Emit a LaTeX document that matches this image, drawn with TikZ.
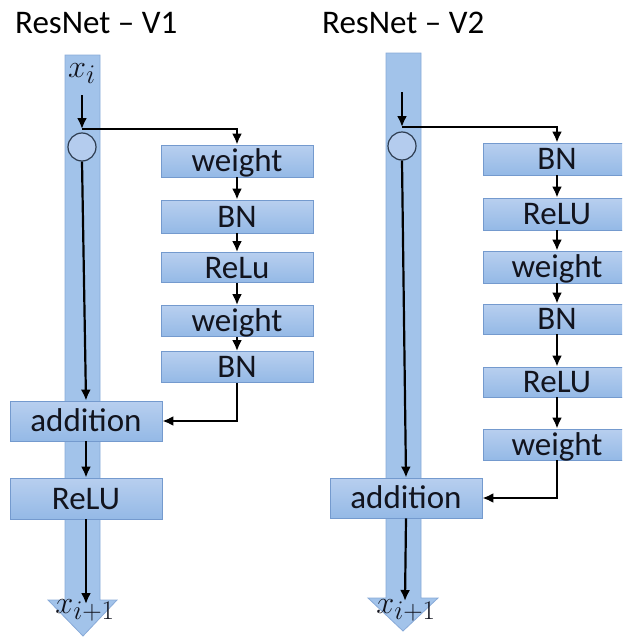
\RequirePackage{fix-cm}
\documentclass[tikz,border=0pt]{standalone}
\usepackage[no-math]{fontspec}
\setmainfont{Carlito}
\usetikzlibrary{arrows.meta}

\definecolor{barfill}{RGB}{162,195,234}
\definecolor{barline}{RGB}{136,170,216}
\definecolor{boxtop}{RGB}{184,207,239}
\definecolor{boxbot}{RGB}{148,185,230}
\definecolor{boxline}{RGB}{116,154,206}
\definecolor{nodefill}{RGB}{180,204,238}
\definecolor{nodeline}{RGB}{45,60,80}
\definecolor{txt}{RGB}{18,20,30}

\tikzset{
  lbl/.style={font=\fontsize{33}{36}\selectfont, text=txt},
  blk/.style={draw=boxline, line width=0.8pt, top color=boxtop, bottom color=boxbot,
    inner sep=0pt, text height=21pt, text depth=0pt, lbl},
  trunk/.style={fill=barfill, draw=barline, line width=0.8pt},
  joint/.style={circle, draw=nodeline, line width=1.2pt, fill=nodefill, minimum size=28pt, inner sep=0pt},
  flow/.style={line width=2.2pt, -{Latex[length=11pt,width=10pt]}},
  mathlbl/.style={anchor=base, font=\fontsize{24.88}{28}\selectfont, text=txt, inner sep=0pt},
  title/.style={anchor=base west, font=\fontsize{33}{36}\selectfont, text=black, inner sep=0pt}
}
\newcommand{\biglbl}[1]{\scalebox{1.3}{#1}}

\begin{document}
\begin{tikzpicture}[x=1pt, y=-1pt]
\useasboundingbox (0,0) rectangle (622,637);
\clip (0,0) rectangle (622,637);

% titles
\node[title] (t1) at (15,33) {ResNet – V1};
\node[title] (t2) at (322,33) {ResNet – V2};

% identity trunks drawn as wide arrows
\draw[trunk] (65,55) -- (100,55) -- (100,600) -- (117,600) -- (83,636) -- (48,600) -- (65,600) -- cycle;
\draw[trunk] (386,53) -- (421,53) -- (421,598) -- (438,598) -- (403,631) -- (368,598) -- (386,598) -- cycle;

% ---------------- V1 ----------------
\node[mathlbl] (xi1) at (82,77) {\biglbl{$x_i$}};
\coordinate (in1) at (82,95);
\coordinate (s1) at (82,129);
\node[joint] (c1) at (82,147) {};

\node[blk, minimum width=152pt, minimum height=32pt] (w1)  at (237,161)   {weight};
\node[blk, minimum width=152pt, minimum height=33pt] (b1)  at (237,216.5) {BN};
\node[blk, minimum width=152pt, minimum height=30pt] (r1)  at (237,267.5) {ReLu};
\node[blk, minimum width=152pt, minimum height=31pt] (w1b) at (237,321)   {weight};
\node[blk, minimum width=152pt, minimum height=31pt] (b1b) at (237,367)   {BN};

\node[blk, minimum width=152pt, minimum height=40pt] (a1)  at (86,421)   {addition};
\node[blk, minimum width=152pt, minimum height=41pt] (o1)  at (86,498.5) {ReLU};
\coordinate (e1) at (86,604);
\node[mathlbl] (xo1) at (85,613) {\biglbl{$x_{i+1}$}};

\draw[flow] (in1) -- (s1);
\draw[flow] (s1) -| (w1.north);
\draw[flow] (w1) -- (b1);
\draw[flow] (b1) -- (r1);
\draw[flow] (r1) -- (w1b);
\draw[flow] (w1b) -- (b1b);
\draw[flow] (b1b.south) |- (a1.east);
\draw[flow] (c1.south) -- (a1.north);
\draw[flow] (a1) -- (o1);
\draw[flow] (o1.south) -- (e1);

% ---------------- V2 ----------------
\coordinate (in2) at (402,92);
\coordinate (s2) at (402,127);
\node[joint] (c2) at (402,146) {};

\node[blk, minimum width=148pt, minimum height=32pt] (b2)  at (557,159)   {BN};
\node[blk, minimum width=148pt, minimum height=32pt] (r2)  at (557,214)   {ReLU};
\node[blk, minimum width=148pt, minimum height=32pt] (w2)  at (557,267)   {weight};
\node[blk, minimum width=148pt, minimum height=30pt] (b2b) at (557,319)   {BN};
\node[blk, minimum width=148pt, minimum height=30pt] (r2b) at (557,382)   {ReLU};
\node[blk, minimum width=148pt, minimum height=31pt] (w2b) at (557,444.5) {weight};

\node[blk, minimum width=152pt, minimum height=40pt] (a2)  at (406,498) {addition};
\coordinate (e2) at (405,601);
\node[mathlbl] (xo2) at (406,613) {\biglbl{$x_{i+1}$}};

\draw[flow] (in2) -- (s2);
\draw[flow] (s2) -| (b2.north);
\draw[flow] (b2) -- (r2);
\draw[flow] (r2) -- (w2);
\draw[flow] (w2) -- (b2b);
\draw[flow] (b2b) -- (r2b);
\draw[flow] (r2b) -- (w2b);
\draw[flow] (w2b.south) |- (a2.east);
\draw[flow] (c2.south) -- (a2.north);
\draw[flow] (a2.south) -- (e2);
\end{tikzpicture}
\end{document}
